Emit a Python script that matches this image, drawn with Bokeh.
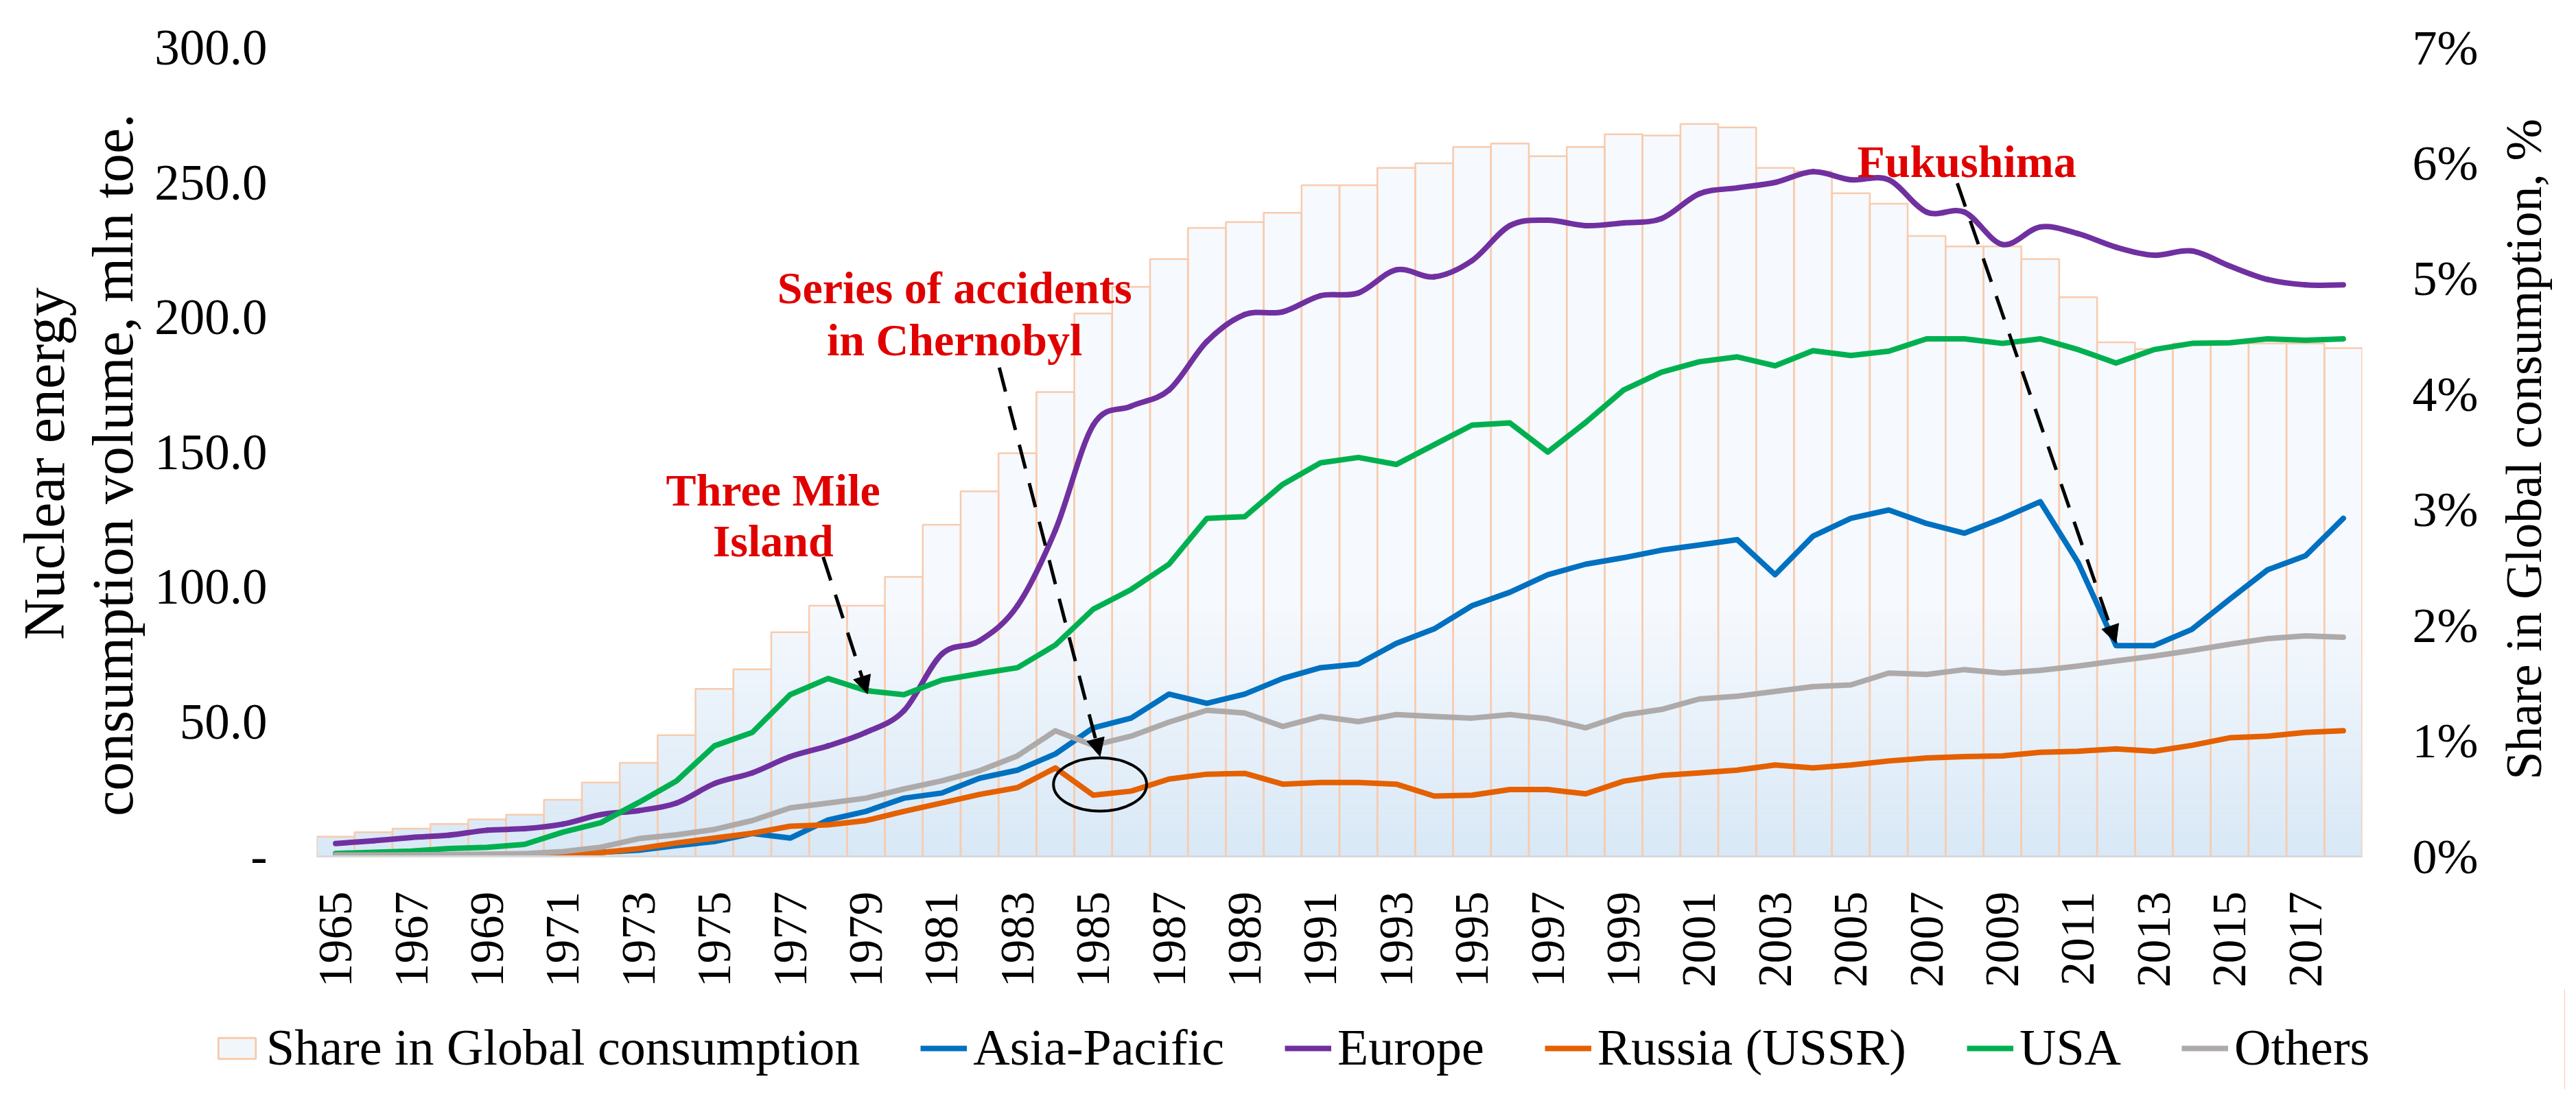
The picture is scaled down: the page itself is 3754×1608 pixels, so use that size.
import math
import numpy as np
from bokeh.plotting import figure
from bokeh.layouts import column, row
from bokeh.models import (Range1d, LinearAxis, FixedTicker, Legend, LegendItem,
                          Arrow, NormalHead, Label, ColumnDataSource)
from bokeh.embed import file_html
from bokeh.resources import INLINE

# ---------------- data ----------------
years = list(range(1965, 2019))

share_pct = [0.17, 0.21, 0.24, 0.28, 0.32, 0.36, 0.49, 0.64, 0.81, 1.05,
             1.45, 1.62, 1.94, 2.17, 2.17, 2.42, 2.87, 3.16, 3.49, 4.02,
             4.70, 4.93, 5.17, 5.44, 5.49, 5.57, 5.81, 5.81, 5.96, 6.00,
             6.14, 6.17, 6.06, 6.14, 6.25, 6.24, 6.34, 6.31, 5.96, 5.93,
             5.74, 5.65, 5.37, 5.28, 5.28, 5.17, 4.84, 4.45, 4.39, 4.44,
             4.44, 4.44, 4.44, 4.40]

asia_pacific = [0.2, 0.2, 0.3, 0.3, 0.4, 0.5, 0.8, 1.5, 2.3, 4.0,
                5.5, 8.5, 6.8, 13.5, 16.7, 21.6, 23.5, 29.0, 32.0, 38.0,
                47.7, 51.3, 60.2, 56.8, 60.2, 66.0, 70.0, 71.4, 79.0, 84.4,
                93.0, 98.0, 104.5, 108.4, 110.8, 113.6, 115.5, 117.5, 104.5, 118.8,
                125.4, 128.5, 123.5, 119.9, 125.4, 131.6, 109.0, 78.2, 78.2, 84.2,
                95.4, 106.3, 111.5, 125.4]

europe = [4.8, 5.8, 7.0, 7.9, 9.7, 10.3, 12.0, 15.5, 17.0, 19.8,
          27.0, 31.0, 37.0, 41.0, 46.0, 54.0, 75.0, 80.0, 93.0, 121.0,
          160.0, 167.0, 173.0, 191.0, 201.0, 202.0, 208.0, 209.0, 217.6, 215.0,
          221.0, 234.0, 236.0, 234.0, 235.0, 236.6, 245.8, 248.0, 250.0, 254.0,
          251.0, 251.0, 239.0, 239.0, 227.0, 233.5, 231.0, 226.0, 223.0, 224.6,
          219.0, 214.0, 212.0, 212.0]

russia_ussr = [0.1, 0.1, 0.2, 0.2, 0.3, 0.4, 0.7, 1.4, 2.9, 5.0,
               6.8, 8.6, 11.2, 11.7, 13.3, 16.7, 19.8, 23.0, 25.5, 32.8,
               22.7, 24.2, 28.7, 30.5, 30.8, 26.8, 27.4, 27.4, 26.8, 22.4,
               22.7, 24.8, 24.8, 23.2, 27.9, 30.0, 31.0, 32.0, 33.9, 32.8,
               33.9, 35.4, 36.5, 37.0, 37.3, 38.6, 39.0, 39.9, 39.0, 41.2,
               44.0, 44.6, 46.0, 46.6]

usa = [1.1, 1.5, 2.0, 2.9, 3.4, 4.5, 9.0, 12.5, 20.0, 28.0,
       41.0, 46.0, 60.0, 66.0, 61.5, 60.0, 65.4, 67.8, 70.0, 78.4,
       91.7, 99.0, 108.4, 125.4, 126.0, 138.0, 146.0, 148.0, 145.4, 152.7,
       160.0, 160.8, 150.0, 161.0, 173.0, 179.6, 183.5, 185.3, 182.0, 187.6,
       185.8, 187.4, 192.0, 192.0, 190.3, 192.0, 188.0, 183.0, 188.0, 190.3,
       190.5, 192.0, 191.5, 192.0]

others = [0.5, 0.5, 0.6, 0.7, 0.8, 1.0, 1.8, 3.4, 6.6, 8.0,
          10.0, 13.3, 18.0, 19.8, 21.6, 25.0, 28.0, 31.8, 37.3, 46.6,
          41.2, 44.6, 49.8, 54.2, 53.2, 48.2, 51.9, 50.0, 52.6, 51.9,
          51.3, 52.6, 51.0, 47.7, 52.4, 54.5, 58.4, 59.4, 61.2, 63.0,
          63.6, 68.0, 67.5, 69.3, 68.0, 69.0, 70.6, 72.5, 74.3, 76.4,
          78.7, 80.8, 81.8, 81.3]

left_ticks = [0, 50, 100, 150, 200, 250, 300]
left_tick_labels = ["-", "50.0", "100.0", "150.0", "200.0", "250.0", "300.0"]
right_ticks = [0, 1, 2, 3, 4, 5, 6, 7]
right_tick_labels = ["0%", "1%", "2%", "3%", "4%", "5%", "6%", "7%"]
year_ticks = years[::2]

series_names = ["Asia-Pacific", "Europe", "Russia (USSR)", "USA", "Others"]
series_colors = ["#0070c0", "#7030a0", "#e46000", "#00b050", "#aeaaaa"]
bar_name = "Share in Global consumption"
left_title_lines = ["Nuclear energy", "consumption volume, mln toe."]
right_title = "Share in Global consumption, %"

# annotations: (text, x, y)
note_texts = [("Three Mile", 1976.55, 135.8), ("Island", 1976.55, 117.0),
              ("Series of accidents", 1981.34, 211.0), ("in Chernobyl", 1981.34, 191.7),
              ("Fukushima", 2008.06, 257.8)]
note_arrows = [(1977.87, 111.1, 1979.04, 60.3),
               (1982.52, 181.3, 1985.18, 37.1),
               (2007.81, 249.7, 2012.0, 79.1)]

FONT = "Liberation Serif"
BAR_LINE = "#f8cbad"


def blank_figure(w, h, xr, yr_):
    f = figure(width=w, height=h, output_backend="svg", toolbar_location=None,
               x_range=xr, y_range=yr_, x_axis_location=None, y_axis_location=None,
               min_border=0, min_border_left=0, min_border_right=0,
               min_border_top=0, min_border_bottom=0)
    f.outline_line_color = None
    f.xgrid.visible = False
    f.ygrid.visible = False
    return f


# ---------------- layout sizes ----------------
LTW = 222            # left title strip
RW = 121             # right title strip
MW = 3617 - LTW      # main figure
MH = 1442

# ---------------- main figure ----------------
p = figure(width=MW, height=MH, output_backend="svg", toolbar_location=None,
           x_range=Range1d(1964.5, 2018.5), y_range=Range1d(0, 300),
           min_border_left=235, min_border_right=175,
           min_border_top=69, min_border_bottom=193)
p.extra_y_ranges = {"pct": Range1d(0, 7)}
p.outline_line_color = None
p.xgrid.visible = False
p.ygrid.visible = False
p.background_fill_color = "white"
p.border_fill_color = "white"

# gradient filled bars (share of global consumption)
sh = np.array(share_pct, dtype=float)
yr = np.array(years, dtype=float)
levels = np.linspace(0.0, 2.2, 45)
c_bot = np.array([216, 232, 246], dtype=float)
c_top = np.array([246, 249, 253], dtype=float)
L, R, B, T, C = [], [], [], [], []
for k in range(len(levels)):
    lo = levels[k]
    mask = sh > lo
    if k < len(levels) - 1:
        top = np.minimum(sh, levels[k + 1])
        frac = (k + 0.5) / (len(levels) - 1)
    else:
        top = sh
        frac = 1.0
    col = c_bot + (c_top - c_bot) * frac
    hexc = "#%02x%02x%02x" % tuple(int(round(v)) for v in col)
    L += list(yr[mask] - 0.5)
    R += list(yr[mask] + 0.5)
    B += [lo] * int(mask.sum())
    T += list(top[mask])
    C += [hexc] * int(mask.sum())
grad_src = ColumnDataSource(dict(left=L, right=R, bottom=B, top=T, color=C))
p.quad(left="left", right="right", bottom="bottom", top="top", source=grad_src,
       fill_color="color", line_color="color", line_width=0.6, y_range_name="pct")

p.vbar(x=years, top=share_pct, bottom=0, width=1.0, fill_color=None,
       line_color=BAR_LINE, line_width=2.5, y_range_name="pct")

# lines
LW = 8
kw = dict(line_width=LW, line_join="round", line_cap="round")
p.line(years, asia_pacific, line_color=series_colors[0], **kw)

ex = np.array(years, dtype=float)
ey = np.array(europe, dtype=float)
xp = np.concatenate([[ex[0]], ex, [ex[-1]]])
ypad = np.concatenate([[ey[0]], ey, [ey[-1]]])
n = len(ex)
cx0 = ex[:-1] + (xp[2:n + 1] - xp[0:n - 1]) / 6.0
cy0 = ey[:-1] + (ypad[2:n + 1] - ypad[0:n - 1]) / 6.0
cx1 = ex[1:] - (xp[3:n + 2] - xp[1:n]) / 6.0
cy1 = ey[1:] - (ypad[3:n + 2] - ypad[1:n]) / 6.0
p.bezier(x0=ex[:-1], y0=ey[:-1], x1=ex[1:], y1=ey[1:],
         cx0=cx0, cy0=cy0, cx1=cx1, cy1=cy1,
         line_color=series_colors[1], line_width=LW, line_cap="round")

p.line(years, russia_ussr, line_color=series_colors[2], **kw)
p.line(years, usa, line_color=series_colors[3], **kw)
p.line(years, others, line_color=series_colors[4], **kw)

# ellipse around the 1985 dip of Russia (USSR)
i85 = years.index(1985)
p.ellipse(x=[years[i85] + 0.18], y=[russia_ussr[i85] + 4.0], width=2.46, height=19.8,
          fill_color=None, line_color="black", line_width=4)

# annotations
for t, x, y in note_texts:
    p.add_layout(Label(x=x, y=y, text=t, text_align="center", text_baseline="alphabetic",
                       text_font=FONT, text_font_style="bold", text_font_size="66px",
                       text_color="#e00000"))
for xs, ys, xe, ye in note_arrows:
    p.add_layout(Arrow(x_start=xs, y_start=ys, x_end=xe, y_end=ye,
                       line_width=5, line_dash="36 22", line_color="black",
                       end=NormalHead(size=26, fill_color="black", line_color="black",
                                      line_width=1)))

# axes
xa = p.below[0]
xa.ticker = FixedTicker(ticks=year_ticks)
xa.major_label_orientation = math.pi / 2
xa.major_label_text_font = FONT
xa.major_label_text_font_size = "70px"
xa.major_label_text_color = "black"
xa.major_label_standoff = 45
xa.axis_line_color = "#d9d9d9"
xa.axis_line_width = 3
xa.major_tick_line_color = None
xa.minor_tick_line_color = None

ya = p.left[0]
ya.ticker = FixedTicker(ticks=left_ticks)
ya.major_label_overrides = {t: s for t, s in zip(left_ticks, left_tick_labels)}
ya.major_label_text_font = FONT
ya.major_label_text_font_size = "73px"
ya.major_label_text_color = "black"
ya.major_label_standoff = 66
ya.axis_line_color = None
ya.major_tick_line_color = None
ya.minor_tick_line_color = None

ra = LinearAxis(y_range_name="pct", ticker=FixedTicker(ticks=right_ticks))
ra.major_label_overrides = {t: s for t, s in zip(right_ticks, right_tick_labels)}
ra.major_label_text_font = FONT
ra.major_label_text_font_size = "72px"
ra.major_label_text_color = "black"
ra.major_label_standoff = 67
ra.axis_line_color = None
ra.major_tick_line_color = None
ra.minor_tick_line_color = None
p.add_layout(ra, "right")

# ---------------- left axis title (narrow figure) ----------------
p_lt = blank_figure(LTW, MH, Range1d(0, LTW), Range1d(0, MH))
for txt, cx, cy in zip(left_title_lines, [64, 164], [742, 744]):
    p_lt.add_layout(Label(x=cx, y=MH - cy, text=txt, angle=math.pi / 2,
                          text_align="center", text_baseline="middle",
                          text_font=FONT, text_font_size="84px", text_color="black"))

# ---------------- right axis title (narrow figure) ----------------
p_rt = blank_figure(RW, MH, Range1d(0, RW), Range1d(0, MH))
p_rt.add_layout(Label(x=60, y=MH - 716, text=right_title,
                      angle=math.pi / 2, text_align="center", text_baseline="middle",
                      text_font=FONT, text_font_size="74px", text_color="black"))

# ---------------- legend (own figure below) ----------------
LGW, LGH = LTW + MW + RW, 146
p_leg = blank_figure(LGW, LGH, Range1d(0, 1), Range1d(0, 1))
# legend proxies: the same series, drawn outside this figure's visible range
lg_bar = p_leg.vbar(x=years, top=share_pct, width=1.0, fill_color="#f1f6fb",
                    line_color=BAR_LINE, line_width=3)
lg_items = [LegendItem(label=bar_name, renderers=[lg_bar])]
for name, col, vals in zip(series_names, series_colors,
                           [asia_pacific, europe, russia_ussr, usa, others]):
    r = p_leg.line(years, vals, line_color=col, line_width=LW)
    lg_items.append(LegendItem(label=name, renderers=[r]))
legend = Legend(items=lg_items, orientation="horizontal", location=(311, 18),
                glyph_width=68, glyph_height=38, label_standoff=9, spacing=88,
                padding=0, margin=0, border_line_color=None, background_fill_alpha=0,
                label_text_font=FONT, label_text_font_size="74px",
                label_text_color="black")
if "ncols" in Legend.properties():
    legend.ncols = len(lg_items)
p_leg.add_layout(legend, "center")

layout = column(row(p_lt, p, p_rt), p_leg)
open("out.html", "w").write(file_html(layout, INLINE))
